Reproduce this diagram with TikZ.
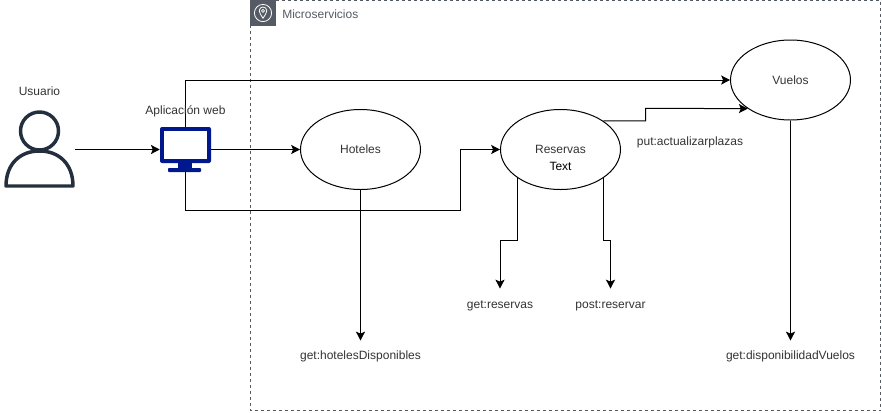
\documentclass[tikz,border=0pt]{standalone}
\usepackage{fontspec}
\setmainfont{Liberation Sans}
\usetikzlibrary{arrows.meta,shapes.geometric,calc}
\definecolor{txt}{HTML}{333333}
\definecolor{slate}{HTML}{232F3E}
\definecolor{monblue}{HTML}{00188D}
\definecolor{tagc}{HTML}{545B64}
\tikzset{
  x=0.75pt,y=-0.75pt,
  lab/.style={font=\fontsize{9}{11}\selectfont,text=txt,inner sep=0pt,align=center},
  svc/.style={ellipse,draw=black,line width=0.75pt,minimum width=90pt,minimum height=60pt,inner sep=0pt,lab},
  conn/.style={draw=black,line width=0.75pt,-{Stealth[length=6.6pt,width=6.8pt,inset=1.4pt]}}
}
\begin{document}
\begin{tikzpicture}
\useasboundingbox (0,0) rectangle (882,412);
\draw[draw=tagc,line width=0.75pt,dash pattern=on 2.25pt off 2.25pt] (250.5,0.5) rectangle (880.5,410.5);
\fill[tagc] (250,0) rectangle (276,26);
\node[lab,anchor=west,text=tagc] (ms) at (282,14) {Microservicios};
% icon
\draw[white,line width=0.6pt] (263,13) circle (8.6);
\draw[white,line width=0.6pt] (263,18.2) .. controls (261.5,15.4) and (259.2,13.4) .. (259.2,10.8) .. controls (259.2,8.6) and (261,7) .. (263,7) .. controls (265,7) and (266.8,8.6) .. (266.8,10.8) .. controls (266.8,13.4) and (264.5,15.4) .. (263,18.2) -- cycle;
\draw[white,line width=0.5pt] (263,10.8) circle (1.5);

\node[inner sep=0pt,minimum width=52.5pt,minimum height=57pt] (usuario) at (39.5,149.5) {};
\node[inner sep=0pt,minimum width=38.25pt,minimum height=33.75pt] (web) at (185.5,149.5) {};
\node[lab] (ulabel) at (39.5,91) {Usuario};
\node[svc] (hot) at (360.5,149.5) {Hoteles};
\node[svc] (res) at (560.5,149.5) {Reservas};
\node[lab,text=black] (rtext) at (560.5,166) {Text};
\node[svc] (vue) at (790.5,80) {Vuelos};
\node[lab] (gh) at (360.5,356) {get:hotelesDisponibles};
\node[lab] (gr) at (500,306) {get:reservas};
\node[lab] (pr) at (610.5,306) {post:reservar};
\node[lab] (pa) at (690,142) {put:actualizarplazas};
\node[lab] (gd) at (790.5,356) {get:disponibilidadVuelos};
\coordinate (ghend) at (360.5,340.5);
\coordinate (grend) at (500,288.5);
\coordinate (prend) at (610.5,288.5);
\coordinate (gdend) at (790.5,340.5);

% connectors
\draw[conn] (usuario.east) -- (web.west);
\draw[conn] (web.east) -- (hot.west);
\draw[conn] (web.north) |- (vue.west);
\draw[conn] (web.south) |- (460.5,210.5) |- (res.west);
\draw[conn] (res.north east) -| (645.5,108.3) -- (vue.south west);
\draw[conn] (res.south west) |- (500,240) -- (grend);
\draw[conn] (res.south east) |- (610.5,240) -- (prend);
\draw[conn] (hot.south) -- (ghend);
\draw[conn] (vue.south) -- (gdend);

% user icon
\draw[slate,line width=2.6pt] (39.5,131) circle (19);
\draw[slate,line width=2.6pt,line join=round,fill=white] (6,186) .. controls (6,164) and (20,151) .. (39.5,151) .. controls (59,151) and (73,164) .. (73,186) -- cycle;
% monitor icon
\fill[monblue,rounded corners=1.5pt] (160,127) rectangle (211,163);
\fill[white] (164,131) rectangle (207,159);
\fill[monblue] (178,163) rectangle (192,169);
\fill[monblue,rounded corners=0.7pt] (168,168) rectangle (201,172);
\node[lab] (wlabel) at (185.5,111) {Aplicación web};
\end{tikzpicture}
\end{document}
